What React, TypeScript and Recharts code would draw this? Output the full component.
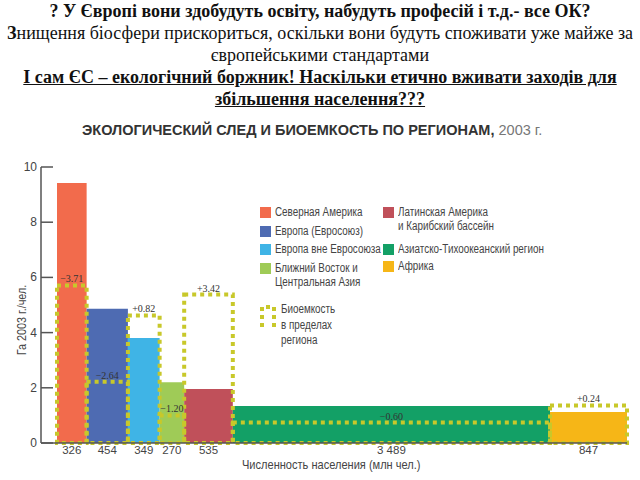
import React from 'react';
import { ComposedChart, XAxis, YAxis, ReferenceArea, Line } from 'recharts';

// Регионы, численность (млн чел.), экослед и биоемкость (га/чел.), 2003 г.
const regions = [
  'Северная Америка',
  'Европа (Евросоюз)',
  'Европа вне Евросоюза',
  'Ближний Восток и Центральная Азия',
  'Латинская Америка и Карибский бассейн',
  'Азиатско-Тихоокеанский регион',
  'Африка',
];
const population = [326, 454, 349, 270, 535, 3489, 847];
const populationLabels = ['326', '454', '349', '270', '535', '3 489', '847'];
const footprint = [9.42, 4.86, 3.8, 2.2, 1.96, 1.34, 1.12];
const biocapacity = [5.71, 2.22, 4.62, 1.0, 5.38, 0.74, 1.36];
const balanceLabels = ['−3.71', '−2.64', '+0.82', '−1.20', '+3.42', '−0.60', '+0.24'];
const colors = ['#f26b4c', '#4e6bb2', '#3fb4e6', '#9fcb57', '#c0505a', '#13a066', '#f6b617'];
const yTicks = [0, 2, 4, 6, 8, 10];

const BIO = '#c8c82a';

// строим ширины столбцов из численности
let acc = 0;
const rows = population.map((p, i) => {
  const start = acc;
  acc += p;
  return {
    name: regions[i],
    start,
    end: acc,
    mid: start + p / 2,
    footprint: footprint[i],
    biocapacity: biocapacity[i],
  };
});
const total = acc;

const YTick = (props: any) => {
  const { x, y, payload } = props;
  return (
    <g>
      <line x1={x + 4} x2={x + 16} y1={y} y2={y} stroke="#555" strokeWidth={1.5} />
      <text x={x} y={y} dy={4} textAnchor="end" fontSize={12} fill="#444" fontFamily="Liberation Sans, Arial, sans-serif">
        {payload.value}
      </text>
    </g>
  );
};

const legendLeft = [
  { i: 0, lines: ['Северная Америка'], top: 205 },
  { i: 1, lines: ['Европа (Евросоюз)'], top: 224 },
  { i: 2, lines: ['Европа вне Евросоюза'], top: 242 },
  { i: 3, lines: ['Ближний Восток и', 'Центральная Азия'], top: 261 },
];
const legendRight = [
  { i: 4, lines: ['Латинская Америка', 'и Карибский бассейн'], top: 205 },
  { i: 5, lines: ['Азиатско-Тихоокеанский регион'], top: 242 },
  { i: 6, lines: ['Африка'], top: 259 },
];

const legendFont = 'Arial, "Liberation Sans", sans-serif';
const narrow = { transform: 'scaleX(0.82)', transformOrigin: 'left top' };

function LegendItem({ color, lines, left, top }: { color: string; lines: string[]; left: number; top: number }) {
  return (
    <div style={{ position: 'absolute', left, top, display: 'flex', alignItems: 'flex-start' }}>
      <div style={{ width: 11, height: 11, background: color, marginTop: 2, marginRight: 4 }} />
      <div style={{ fontFamily: legendFont, fontSize: 12, lineHeight: '14px', color: '#444', whiteSpace: 'nowrap', ...narrow }}>
        {lines.map((l, k) => (
          <div key={k}>{l}</div>
        ))}
      </div>
    </div>
  );
}

export default function App() {
  const serif = '"Liberation Serif", "Times New Roman", serif';
  const line = { whiteSpace: 'nowrap' as const, textAlign: 'center' as const, height: 22 };
  return (
    <div style={{ position: 'absolute', left: 0, top: 0, width: 640, height: 480, background: '#fff', overflow: 'hidden' }}>
      <div style={{ position: 'absolute', left: 0, top: 0, width: 640, fontFamily: serif, fontSize: 18, lineHeight: '22px', color: '#111' }}>
        <div style={{ ...line, fontWeight: 'bold' }}>? У Європі вони здобудуть освіту, набудуть професій і т.д.- все ОК?</div>
        <div style={line}>
          <b>З</b>нищення біосфери прискориться, оскільки вони будуть споживати уже майже за
        </div>
        <div style={line}>європейськими стандартами</div>
        <div style={{ ...line, fontWeight: 'bold', textDecoration: 'underline' }}>
          І сам ЄС – екологічний боржник! Наскільки етично вживати заходів для
        </div>
        <div style={{ ...line, fontWeight: 'bold', textDecoration: 'underline' }}>збільшення населення???</div>
      </div>

      <div style={{ position: 'absolute', left: 82, top: 122, fontFamily: 'Liberation Sans, Arial, sans-serif', fontSize: 14.5, color: '#333', whiteSpace: 'nowrap' }}>
        <b>ЭКОЛОГИЧЕСКИЙ СЛЕД И БИОЕМКОСТЬ ПО РЕГИОНАМ,</b> <span style={{ color: '#777' }}>2003 г.</span>
      </div>

      <ComposedChart
        width={640}
        height={480}
        data={rows}
        margin={{ top: 167, right: 13, bottom: 7, left: 6 }}
        style={{ position: 'absolute', left: 0, top: 0 }}
      >
        <XAxis
          dataKey="mid"
          type="number"
          domain={[-176, total]}
          ticks={rows.map((r) => r.mid)}
          tickFormatter={(v: number) => populationLabels[rows.findIndex((r) => r.mid === v)]}
          tickLine={false}
          tickSize={0}
          tickMargin={3}
          height={30}
          axisLine={{ stroke: '#555', strokeWidth: 1.5 }}
          tick={{ fontSize: 11.5, fill: '#444', fontFamily: 'Liberation Sans, Arial, sans-serif' }}
          interval={0}
        />
        <YAxis
          type="number"
          domain={[0, 10]}
          ticks={yTicks}
          width={35}
          tickLine={false}
          tickSize={0}
          tickMargin={4}
          axisLine={{ stroke: '#555', strokeWidth: 1.5 }}
          tick={<YTick />}
        />
        {rows.map((r, i) => (
          <ReferenceArea
            key={'fp' + i}
            x1={r.start}
            x2={r.end}
            y1={0}
            y2={r.footprint}
            fill={colors[i]}
            fillOpacity={1}
            stroke="none"
            ifOverflow="visible"
          />
        ))}
        {rows.map((r, i) => (
          <ReferenceArea
            key={'bio' + i}
            x1={r.start}
            x2={r.end}
            y1={0}
            y2={r.biocapacity}
            fill="none"
            stroke={BIO}
            strokeWidth={4}
            strokeDasharray="4 4"
            ifOverflow="visible"
            label={{ value: balanceLabels[i], position: 'top', fontSize: 10, fill: '#333', offset: 3 }}
          />
        ))}
        <Line dataKey="footprint" stroke="none" dot={false} isAnimationActive={false} />
      </ComposedChart>

      {legendLeft.map((it) => (
        <LegendItem key={it.i} color={colors[it.i]} lines={it.lines} left={260} top={it.top} />
      ))}
      {legendRight.map((it) => (
        <LegendItem key={it.i} color={colors[it.i]} lines={it.lines} left={383} top={it.top} />
      ))}

      <div style={{ position: 'absolute', left: 260, top: 305 }}>
        <svg width={16} height={24}>
          <path d="M2 22 V2 H14 V22" fill="none" stroke={BIO} strokeWidth={4} strokeDasharray="4 4" />
        </svg>
      </div>
      <div style={{ position: 'absolute', left: 281, top: 302, fontFamily: legendFont, fontSize: 12, lineHeight: '15.5px', color: '#444', ...narrow }}>
        <div>Биоемкость</div>
        <div>в пределах</div>
        <div>региона</div>
      </div>

      <div
        style={{
          position: 'absolute',
          left: 22,
          top: 320,
          transform: 'translate(-50%, -50%) rotate(-90deg) scaleX(0.9)',
          fontFamily: legendFont,
          fontSize: 12,
          color: '#444',
          whiteSpace: 'nowrap',
        }}
      >
        Га 2003 г./чел.
      </div>
      <div style={{ position: 'absolute', left: 242, top: 457, fontFamily: legendFont, fontSize: 13, color: '#444', whiteSpace: 'nowrap', transform: 'scaleX(0.85)', transformOrigin: 'left top' }}>
        Численность населения (млн чел.)
      </div>
    </div>
  );
}
